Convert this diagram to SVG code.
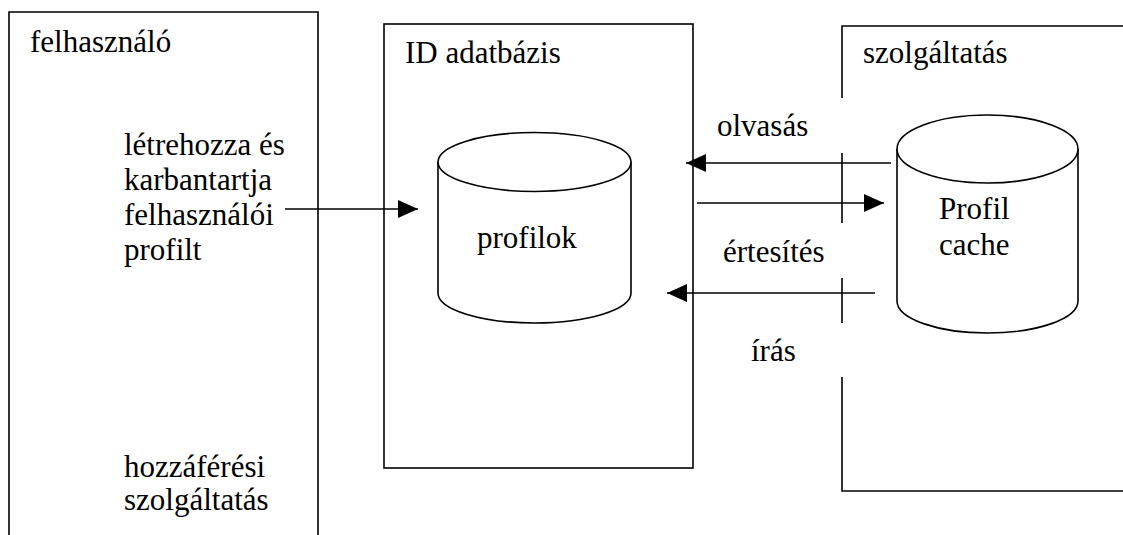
<svg xmlns="http://www.w3.org/2000/svg" width="1123" height="535" viewBox="0 0 1123 535">
  <defs>
    <style>
      .frame { fill: none; stroke: #000; stroke-width: 1.6; }
      .db { fill: #fff; stroke: #000; stroke-width: 1.6; }
      .wire { fill: none; stroke: #000; stroke-width: 1.6; }
    </style>
    <marker id="head" markerWidth="20" markerHeight="18" refX="20" refY="9" orient="auto" markerUnits="userSpaceOnUse">
      <path d="M0,0 L20,9 L0,18 Z" fill="#000"/>
    </marker>
  </defs>
  <rect width="1123" height="535" fill="#fff"/>

  <g font-family="Liberation Serif, Times New Roman, serif" font-size="31" fill="#000">
  <!-- user domain (open at the bottom) -->
  <g id="felhasznalo">
    <path class="frame" d="M9,535 V12 H318 V535"/>
    <text x="30" y="52">felhasználó</text>
    <text x="124" y="155">létrehozza és</text>
    <text x="124" y="190">karbantartja</text>
    <text x="124" y="225">felhasználói</text>
    <text x="124" y="260">profilt</text>
    <text x="124" y="477">hozzáférési</text>
    <text x="124" y="510">szolgáltatás</text>
  </g>

  <!-- identity database -->
  <g id="id-adatbazis">
    <rect class="frame" x="384" y="24" width="309" height="444"/>
    <text x="405" y="63">ID adatbázis</text>
  </g>

  <g id="profilok">
    <path class="db" d="M438,162 V293 A96.5,30 0 0 0 631,293 V162 A96.5,29.5 0 0 0 438,162 Z"/>
    <path class="db" d="M438,162 A96.5,29.5 0 0 0 631,162"/>
    <text x="477" y="248">profilok</text>
  </g>

  <!-- service domain (open to the right, interrupted left edge) -->
  <g id="szolgaltatas">
    <path class="frame" d="M1123,26 H842 V98 M842,153 V223 M842,278 V323 M842,377 V491 H1123"/>
    <text x="863" y="63">szolgáltatás</text>
  </g>

  <g id="profil-cache">
    <path class="db" d="M897,149 V301 A90.5,32 0 0 0 1078,301 V149 A90.5,34 0 0 0 897,149 Z"/>
    <path class="db" d="M897,149 A90.5,34 0 0 0 1078,149"/>
    <text x="939" y="219">Profil</text>
    <text x="939" y="255">cache</text>
  </g>

  <!-- connectors -->
  <g id="connectors">
    <line class="wire" x1="285" y1="209" x2="418" y2="209" marker-end="url(#head)"/>
    <line class="wire" x1="891" y1="163" x2="686" y2="163" marker-end="url(#head)"/>
    <line class="wire" x1="697" y1="203" x2="884" y2="203" marker-end="url(#head)"/>
    <line class="wire" x1="875" y1="293" x2="667" y2="293" marker-end="url(#head)"/>
    <text x="717" y="136">olvasás</text>
    <text x="723" y="262">értesítés</text>
    <text x="751" y="361">írás</text>
  </g>
  </g>
</svg>
